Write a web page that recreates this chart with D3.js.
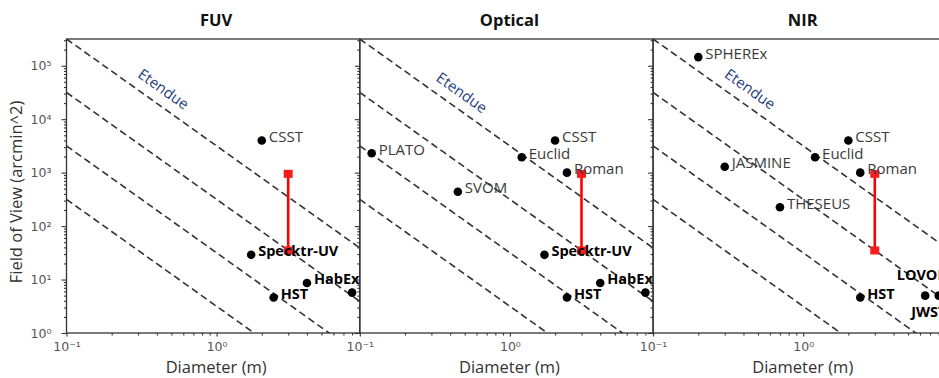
<!DOCTYPE html>
<html>
<head>
<meta charset="utf-8">
<script src="https://cdn.jsdelivr.net/npm/d3@7"></script>
<style>
  html, body { margin: 0; padding: 0; background: #fff; }
  svg { display: block; }
</style>
</head>
<body>
<div id="chart"></div>
<script>
// ---------- data ----------
const panelTitles = ["FUV", "Optical", "NIR"];

// FUV panel
const fuvNames  = ["CSST", "Specktr-UV", "HST", "HabEx", ""];
const fuvDiam   = [2.0, 1.7, 2.4, 4.0, 8.0];
const fuvFov    = [4000, 29, 4.6, 8.6, 5.7];
const fuvBold   = [false, true, true, true, true];

// Optical panel
const optNames  = ["PLATO", "SVOM", "Euclid", "CSST", "Roman", "Specktr-UV", "HST", "HabEx", ""];
const optDiam   = [0.12, 0.45, 1.2, 2.0, 2.4, 1.7, 2.4, 4.0, 8.0];
const optFov    = [2300, 440, 1940, 4000, 1000, 29, 4.6, 8.6, 5.7];
const optBold   = [false, false, false, false, false, true, true, true, true];

// NIR panel
const nirNames  = ["SPHEREx", "JASMINE", "Euclid", "CSST", "Roman", "THESEUS", "HST", "JWST", "LOVOIR"];
const nirDiam   = [0.2, 0.3, 1.2, 2.0, 2.4, 0.7, 2.4, 6.5, 8.0];
const nirFov    = [145000, 1290, 1940, 4000, 1000, 225, 4.6, 5.0, 5.0];
const nirBold   = [false, false, false, false, false, false, true, true, true];

// Proposed mission range (red bar)
const proposedDiam = 3.0;
const proposedFov  = [35, 950];

// Etendue reference lines: FOV * D^2 = constant
const etendueLevels = [Math.pow(10, 3.5), Math.pow(10, 2.5), Math.pow(10, 1.5), Math.pow(10, 0.5)];

// Axes
const xDomain = [0.1, 9.0];
const yDomain = [1, Math.pow(10, 5.5)];
const xMajorTicks = [0.1, 1];
const xTickLabels = ["10\u207B\u00B9", "10\u2070"];
const yMajorTicks = [1, 10, 100, 1000, 10000, 100000];
const yTickLabels = ["10\u2070", "10\u00B9", "10\u00B2", "10\u00B3", "10\u2074", "10\u2075"];

// ---------- layout / style ----------
const W = 939, H = 378;
const left0 = 66.5, top0 = 39, pw = 293.3, ph = 294;
const textFont = "'Open Sans', 'DejaVu Sans', sans-serif";
const labelOffsets = { "LOVOIR": [-42, -21], "JWST": [-14, 16] };

const panels = [
  { names: fuvNames, diam: fuvDiam, fov: fuvFov, bold: fuvBold },
  { names: optNames, diam: optDiam, fov: optFov, bold: optBold },
  { names: nirNames, diam: nirDiam, fov: nirFov, bold: nirBold }
];

function minorTicks(domain) {
  const out = [];
  for (let e = -2; e <= 6; e++) {
    for (let m = 2; m <= 9; m++) {
      const v = m * Math.pow(10, e);
      if (v > domain[0] && v < domain[1]) out.push(v);
    }
  }
  return out;
}

const svg = d3.select("#chart").append("svg")
  .attr("width", W).attr("height", H)
  .style("background", "#fff");

// y axis title
svg.append("text")
  .attr("transform", `translate(22,${top0 + ph / 2 + 6}) rotate(-90)`)
  .attr("text-anchor", "middle")
  .style("font-family", textFont).style("font-size", "16.5px").style("fill", "#333")
  .text("Field of View (arcmin^2)");

panels.forEach((p, i) => {
  const x = d3.scaleLog().domain(xDomain).range([0, pw]);
  const y = d3.scaleLog().domain(yDomain).range([ph, 0]);
  const g = svg.append("g").attr("transform", `translate(${left0 + i * pw},${top0})`);

  const clipId = "clip" + i;
  g.append("clipPath").attr("id", clipId)
    .append("rect").attr("width", pw).attr("height", ph);

  // title
  svg.append("text")
    .attr("x", left0 + i * pw + pw / 2 + 3).attr("y", 26)
    .attr("text-anchor", "middle")
    .style("font-family", textFont).style("font-size", "16.5px").style("font-weight", "bold")
    .style("fill", "#111")
    .text(panelTitles[i]);

  // x label
  svg.append("text")
    .attr("x", left0 + i * pw + pw / 2 + 3).attr("y", 373)
    .attr("text-anchor", "middle")
    .style("font-family", textFont).style("font-size", "16.5px").style("fill", "#333")
    .text("Diameter (m)");

  const plot = g.append("g").attr("clip-path", `url(#${clipId})`);

  // etendue lines
  const line = d3.line().x(d => x(d[0])).y(d => y(d[1]));
  etendueLevels.forEach(c => {
    plot.append("path")
      .datum(xDomain.map(d => [d, c / (d * d)]))
      .attr("d", line)
      .attr("fill", "none")
      .attr("stroke", "#333")
      .attr("stroke-width", 1.6)
      .attr("stroke-dasharray", "7,4");
  });

  // Etendue label along top line
  const c0 = etendueLevels[0];
  const dA = x.invert(80), dB = x.invert(120);
  const ang = Math.atan2(y(c0 / (dB * dB)) - y(c0 / (dA * dA)), x(dB) - x(dA)) * 180 / Math.PI;
  const dLab = x.invert(97 + (i === 1 ? 5 : 0));
  g.append("text")
    .attr("transform", `translate(${x(dLab)},${y(c0 / (dLab * dLab)) - 19}) rotate(${ang})`)
    .attr("text-anchor", "middle").attr("dy", "0.35em")
    .style("font-family", textFont).style("font-size", "15px").style("fill", "#1f3c7c")
    .text("Etendue");

  // red bar
  plot.append("line")
    .attr("x1", x(proposedDiam)).attr("x2", x(proposedDiam))
    .attr("y1", y(proposedFov[0])).attr("y2", y(proposedFov[1]))
    .attr("stroke", "#ff0000").attr("stroke-width", 2.6);
  plot.selectAll("rect.sq").data(proposedFov).enter().append("rect")
    .attr("class", "sq")
    .attr("x", x(proposedDiam) - 4.5).attr("y", d => y(d) - 4)
    .attr("width", 9).attr("height", 8)
    .attr("fill", "#f51c1c");

  // points
  const pts = p.names.map((n, k) => ({ name: n, d: p.diam[k], f: p.fov[k], bold: p.bold[k] }));
  plot.selectAll("circle").data(pts).enter().append("circle")
    .attr("cx", d => x(d.d)).attr("cy", d => y(d.f)).attr("r", 4.3)
    .attr("fill", "#000");

  g.selectAll("text.lbl").data(pts.filter(d => d.name)).enter().append("text")
    .attr("class", "lbl")
    .attr("x", d => x(d.d) + (labelOffsets[d.name] ? labelOffsets[d.name][0] : 7))
    .attr("y", d => y(d.f) + (labelOffsets[d.name] ? labelOffsets[d.name][1] : -4))
    .attr("dy", "0.36em")
    .style("font-family", textFont)
    .style("font-size", d => d.bold ? "14.5px" : "15px")
    .style("font-weight", d => d.bold ? "bold" : "normal")
    .style("fill", d => d.bold ? "#000" : "#3a3a3a")
    .text(d => d.name);

  // axes
  const yAx = g.append("g").call(
    d3.axisLeft(y).tickValues(yMajorTicks).tickSize(5).tickPadding(10)
      .tickFormat((d, k) => i === 0 ? yTickLabels[k] : ""));
  const yAxMin = g.append("g").call(
    d3.axisLeft(y).tickValues(minorTicks(yDomain)).tickSize(2.5).tickFormat(""));
  const xAx = g.append("g").attr("transform", `translate(0,${ph})`).call(
    d3.axisBottom(x).tickValues(xMajorTicks).tickSize(3.5).tickPadding(6)
      .tickFormat((d, k) => xTickLabels[k]));
  const xAxMin = g.append("g").attr("transform", `translate(0,${ph})`).call(
    d3.axisBottom(x).tickValues(minorTicks(xDomain)).tickSize(2.5).tickFormat(""));

  [yAx, yAxMin, xAx, xAxMin].forEach(a => {
    a.select(".domain").remove();
    a.selectAll(".tick line").attr("stroke", "#333").attr("stroke-width", 1.1);
    a.selectAll(".tick text")
      .style("font-family", "'DejaVu Sans', sans-serif").style("font-size", "12.5px")
      .style("fill", "#555");
  });

  // frame
  g.append("rect").attr("width", pw).attr("height", ph)
    .attr("fill", "none").attr("stroke", "#333").attr("stroke-width", 1.3);
});
</script>
</body>
</html>
